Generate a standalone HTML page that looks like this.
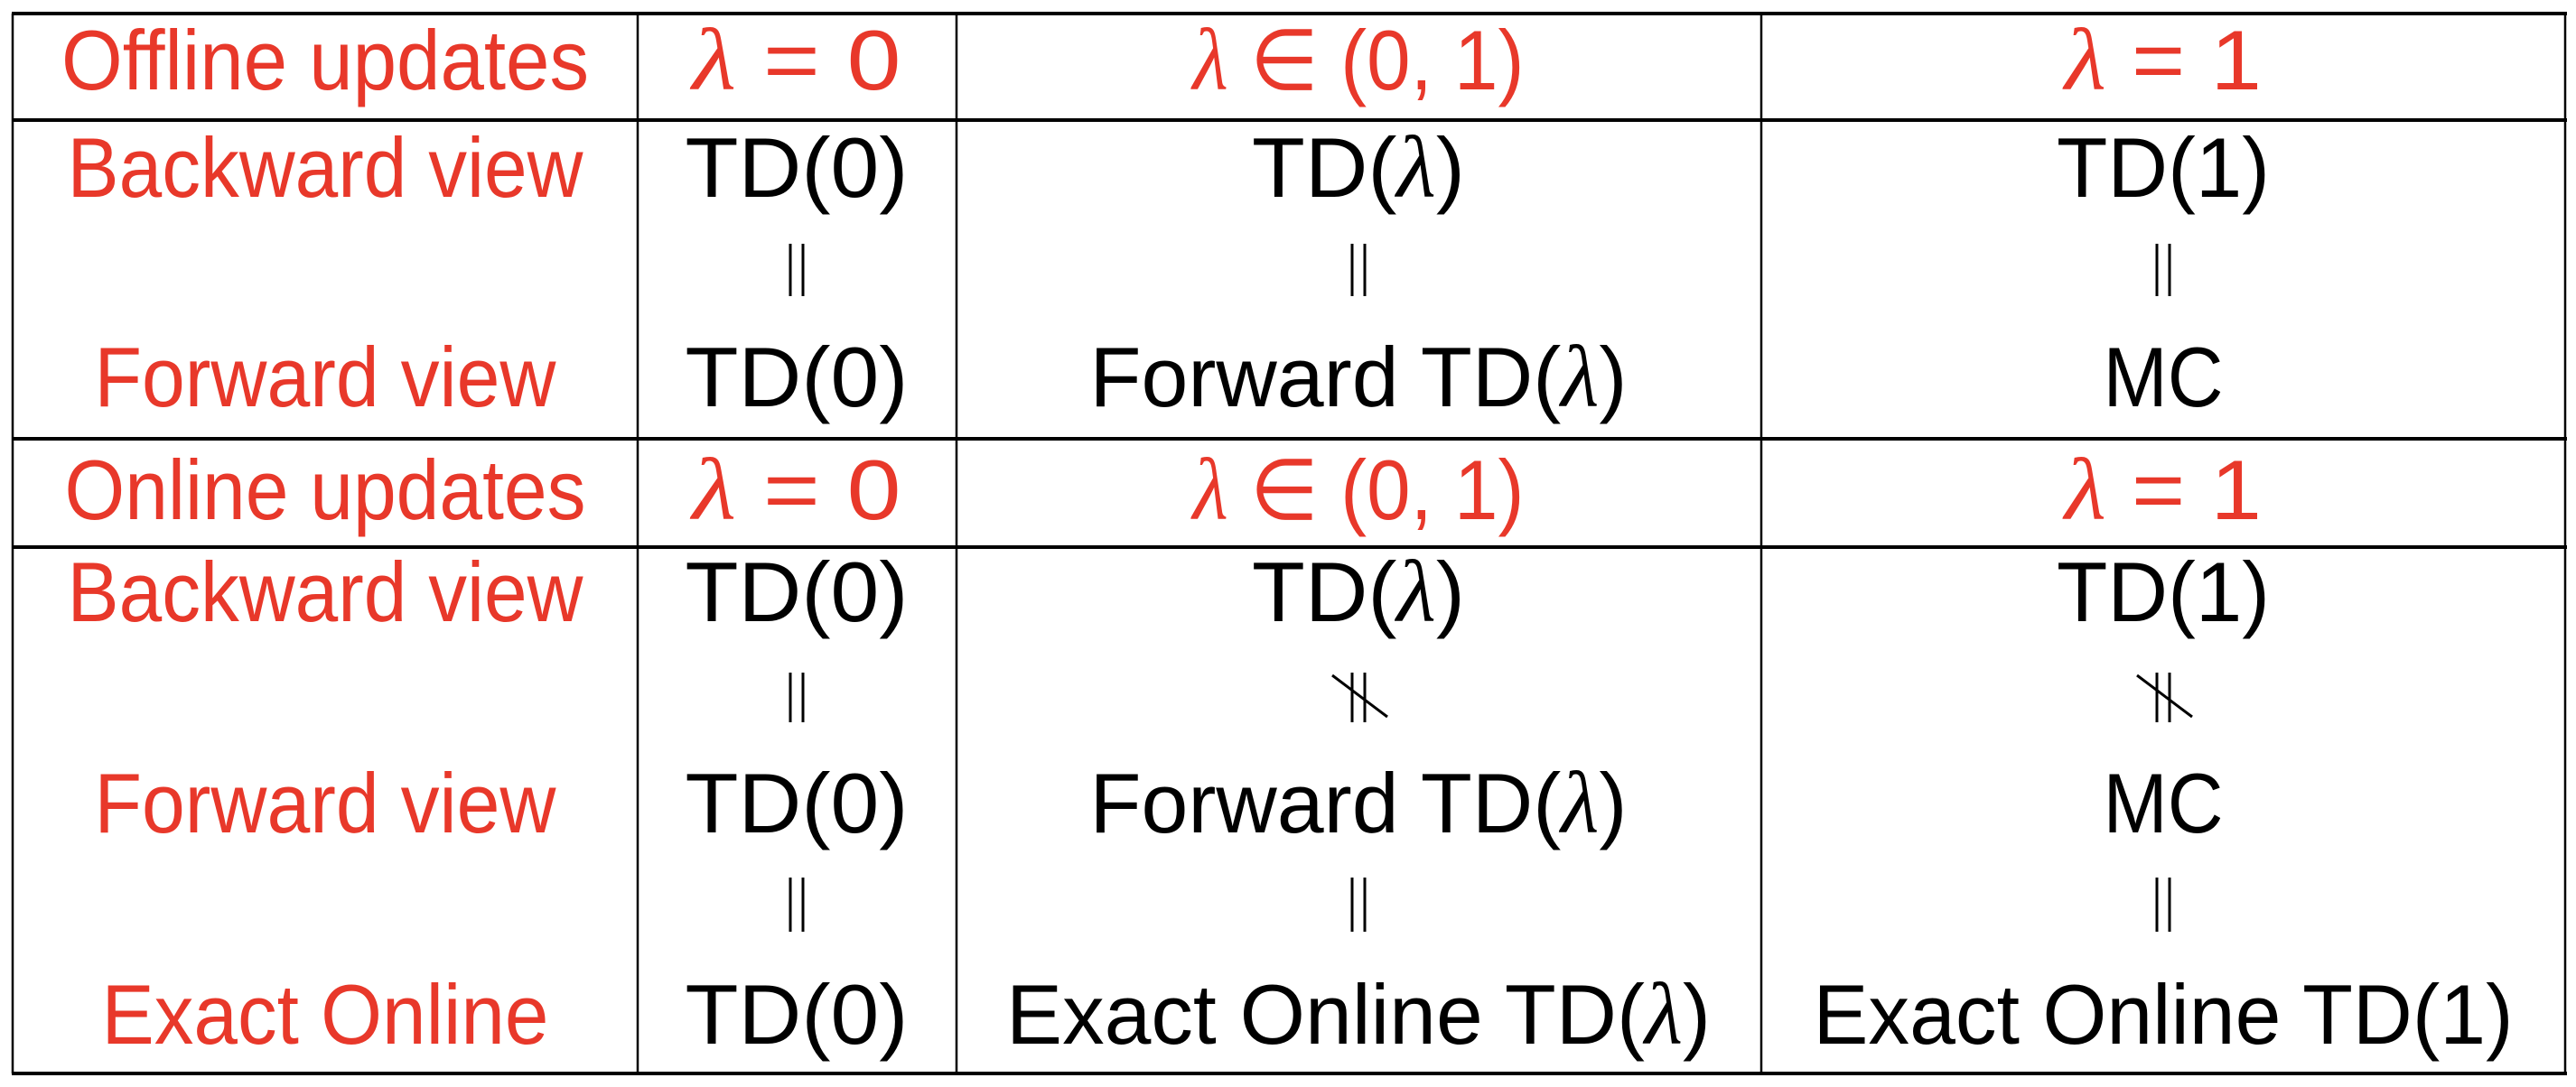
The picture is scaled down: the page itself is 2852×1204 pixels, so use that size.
<!DOCTYPE html>
<html><head><meta charset="utf-8"><style>
html,body{margin:0;padding:0;background:#fff;}
svg{display:block;}
text{font-family:"Liberation Sans",sans-serif;font-size:94px;text-anchor:middle;}
.r{fill:#e8382a;}
.k{fill:#000;}
.l{font-family:"Liberation Serif",serif;font-style:italic;font-size:98px;}
</style></head><body>
<svg width="2852" height="1204" viewBox="0 0 2852 1204" xmlns="http://www.w3.org/2000/svg">
<g stroke="#000" fill="none">
<line x1="13" y1="15" x2="2842" y2="15" stroke-width="4"/>
<line x1="13" y1="133" x2="2842" y2="133" stroke-width="4"/>
<line x1="13" y1="486" x2="2842" y2="486" stroke-width="4"/>
<line x1="13" y1="606" x2="2842" y2="606" stroke-width="4"/>
<line x1="13" y1="1189" x2="2842" y2="1189" stroke-width="4"/>
<line x1="14" y1="15" x2="14" y2="1189" stroke-width="2.5"/>
<line x1="706" y1="15" x2="706" y2="1189" stroke-width="2.5"/>
<line x1="1059" y1="15" x2="1059" y2="1189" stroke-width="2.5"/>
<line x1="1950" y1="15" x2="1950" y2="1189" stroke-width="2.5"/>
<line x1="2840" y1="15" x2="2840" y2="1189" stroke-width="2.5"/>
</g>
<!-- Offline section -->
<text class="r" x="360" y="99" textLength="584" lengthAdjust="spacingAndGlyphs">Offline updates</text>
<text class="r" x="882" y="99" textLength="231" lengthAdjust="spacingAndGlyphs"><tspan class="l">λ</tspan> = 0</text>
<text class="r" x="1504" y="99" textLength="367" lengthAdjust="spacingAndGlyphs"><tspan class="l">λ</tspan> ∈ (0, 1)</text>
<text class="r" x="2395" y="99" textLength="218" lengthAdjust="spacingAndGlyphs"><tspan class="l">λ</tspan> = 1</text>

<text class="r" x="360" y="218" textLength="571" lengthAdjust="spacingAndGlyphs">Backward view</text>
<text class="k" x="882" y="218" textLength="247" lengthAdjust="spacingAndGlyphs">TD(0)</text>
<text class="k" x="1504" y="218" textLength="236" lengthAdjust="spacingAndGlyphs">TD(<tspan class="l">λ</tspan>)</text>
<text class="k" x="2395" y="218" textLength="236" lengthAdjust="spacingAndGlyphs">TD(1)</text>

<text class="r" x="360" y="450" textLength="511" lengthAdjust="spacingAndGlyphs">Forward view</text>
<text class="k" x="882" y="450" textLength="247" lengthAdjust="spacingAndGlyphs">TD(0)</text>
<text class="k" x="1504" y="450" textLength="595" lengthAdjust="spacingAndGlyphs">Forward TD(<tspan class="l">λ</tspan>)</text>
<text class="k" x="2395" y="450" textLength="133" lengthAdjust="spacingAndGlyphs">MC</text>

<!-- Online section -->
<text class="r" x="360" y="575" textLength="577" lengthAdjust="spacingAndGlyphs">Online updates</text>
<text class="r" x="882" y="575" textLength="231" lengthAdjust="spacingAndGlyphs"><tspan class="l">λ</tspan> = 0</text>
<text class="r" x="1504" y="575" textLength="367" lengthAdjust="spacingAndGlyphs"><tspan class="l">λ</tspan> ∈ (0, 1)</text>
<text class="r" x="2395" y="575" textLength="218" lengthAdjust="spacingAndGlyphs"><tspan class="l">λ</tspan> = 1</text>

<text class="r" x="360" y="688" textLength="571" lengthAdjust="spacingAndGlyphs">Backward view</text>
<text class="k" x="882" y="688" textLength="247" lengthAdjust="spacingAndGlyphs">TD(0)</text>
<text class="k" x="1504" y="688" textLength="236" lengthAdjust="spacingAndGlyphs">TD(<tspan class="l">λ</tspan>)</text>
<text class="k" x="2395" y="688" textLength="236" lengthAdjust="spacingAndGlyphs">TD(1)</text>

<text class="r" x="360" y="922" textLength="511" lengthAdjust="spacingAndGlyphs">Forward view</text>
<text class="k" x="882" y="922" textLength="247" lengthAdjust="spacingAndGlyphs">TD(0)</text>
<text class="k" x="1504" y="922" textLength="595" lengthAdjust="spacingAndGlyphs">Forward TD(<tspan class="l">λ</tspan>)</text>
<text class="k" x="2395" y="922" textLength="133" lengthAdjust="spacingAndGlyphs">MC</text>

<text class="r" x="360" y="1156" textLength="495" lengthAdjust="spacingAndGlyphs">Exact Online</text>
<text class="k" x="882" y="1156" textLength="247" lengthAdjust="spacingAndGlyphs">TD(0)</text>
<text class="k" x="1504" y="1156" textLength="780" lengthAdjust="spacingAndGlyphs">Exact Online TD(<tspan class="l">λ</tspan>)</text>
<text class="k" x="2395" y="1156" textLength="775" lengthAdjust="spacingAndGlyphs">Exact Online TD(1)</text>

<!-- equality bars -->
<g stroke="#000" stroke-width="3">
<line x1="875" y1="270" x2="875" y2="328"/><line x1="889" y1="270" x2="889" y2="328"/>
<line x1="1497" y1="270" x2="1497" y2="328"/><line x1="1511" y1="270" x2="1511" y2="328"/>
<line x1="2388" y1="270" x2="2388" y2="328"/><line x1="2402" y1="270" x2="2402" y2="328"/>

<line x1="875" y1="745" x2="875" y2="800"/><line x1="889" y1="745" x2="889" y2="800"/>
<line x1="1497" y1="745" x2="1497" y2="800"/><line x1="1511" y1="745" x2="1511" y2="800"/>
<line x1="1475" y1="748" x2="1536" y2="794"/>
<line x1="2388" y1="745" x2="2388" y2="800"/><line x1="2402" y1="745" x2="2402" y2="800"/>
<line x1="2366" y1="748" x2="2427" y2="794"/>

<line x1="875" y1="972" x2="875" y2="1032"/><line x1="889" y1="972" x2="889" y2="1032"/>
<line x1="1497" y1="972" x2="1497" y2="1032"/><line x1="1511" y1="972" x2="1511" y2="1032"/>
<line x1="2388" y1="972" x2="2388" y2="1032"/><line x1="2402" y1="972" x2="2402" y2="1032"/>
</g>
</svg>
</body></html>
